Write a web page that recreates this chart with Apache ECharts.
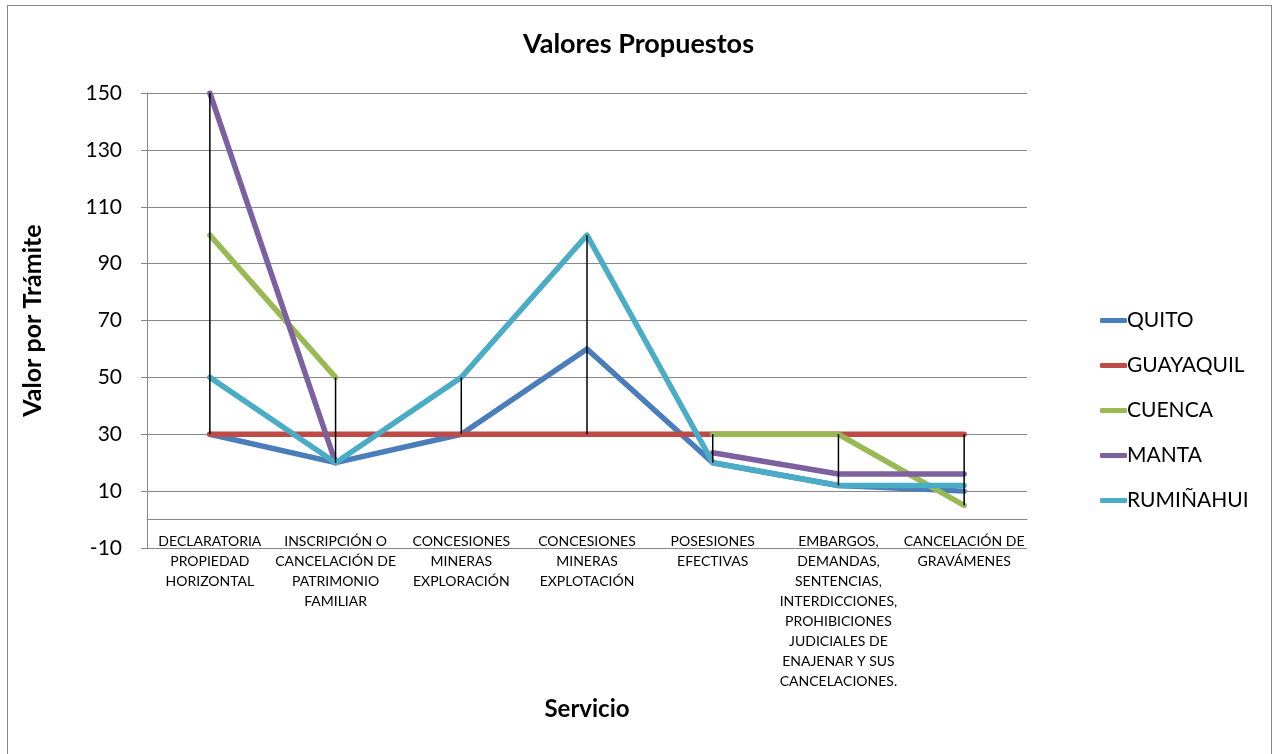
<!DOCTYPE html>
<html>
<head>
<meta charset="utf-8">
<script src="https://cdn.jsdelivr.net/npm/echarts@6/dist/echarts.min.js"></script>
<style>
  html, body { margin: 0; padding: 0; background: #fff; }
  #frame { position: absolute; left: 7px; top: 5px; width: 1265px; height: 770px; border: 1px solid #878787; box-sizing: border-box; }
  #chart { position: absolute; left: 0; top: 0; width: 1277px; height: 754px; }
</style>
</head>
<body>
<div id="frame"></div>
<div id="chart"></div>
<script>
const categories = [
  "DECLARATORIA\nPROPIEDAD\nHORIZONTAL",
  "INSCRIPCIÓN O\nCANCELACIÓN DE\nPATRIMONIO\nFAMILIAR",
  "CONCESIONES\nMINERAS\nEXPLORACIÓN",
  "CONCESIONES\nMINERAS\nEXPLOTACIÓN",
  "POSESIONES\nEFECTIVAS",
  "EMBARGOS,\nDEMANDAS,\nSENTENCIAS,\nINTERDICCIONES,\nPROHIBICIONES\nJUDICIALES DE\nENAJENAR Y SUS\nCANCELACIONES.",
  "CANCELACIÓN DE\nGRAVÁMENES"
];
const quito     = [30, 20, 30, 60, 20, 12, 10];
const guayaquil = [30, 30, 30, 30, 30, 30, 30];
const cuenca    = [100, 50, null, null, 30, 30, 5];
const manta     = [150, 20, null, null, 23.5, 16, 16];
const ruminahui = [50, 20, 50, 100, 20, 12, 12];

const seriesNames = ["QUITO", "GUAYAQUIL", "CUENCA", "MANTA", "RUMIÑAHUI"];
const seriesData = [quito, guayaquil, cuenca, manta, ruminahui];
const colors = ["#4A7EBB", "#BE4B48", "#98B954", "#7D60A0", "#4BACC6"];

const font = "Lato, 'Open Sans', 'Noto Sans', sans-serif";

const hiLo = categories.map((c, i) => {
  const vals = seriesData.map(s => s[i]).filter(v => v !== null && v !== undefined);
  return [i, Math.min(...vals), Math.max(...vals)];
});

const chart = echarts.init(document.getElementById('chart'), null, { renderer: 'canvas' });

const lineSeries = seriesNames.map((name, k) => ({
  name: name,
  type: 'line',
  data: seriesData[k],
  symbol: 'none',
  showSymbol: false,
  connectNulls: false,
  lineStyle: { color: colors[k], width: 5.5, cap: 'round', join: 'round' },
  itemStyle: { color: colors[k] },
  z: 3 + k,
  animation: false
}));

const option = {
  animation: false,
  textStyle: { fontFamily: font },
  title: {
    text: 'Valores Propuestos',
    left: 'center',
    top: 26,
    textStyle: { fontFamily: font, fontSize: 27, fontWeight: 'bold', color: '#000' }
  },
  grid: { left: 147, right: 250, top: 93, bottom: 206, containLabel: false, outerBoundsMode: 'none' },
  legend: {
    orient: 'vertical',
    left: 1095,
    top: 305,
    icon: 'roundRect',
    itemWidth: 27,
    itemHeight: 5,
    itemGap: 24,
    data: seriesNames,
    textStyle: { fontFamily: font, fontSize: 21, lineHeight: 21, color: '#000', padding: [0, 0, 0, -5] }
  },
  xAxis: {
    type: 'category',
    data: categories,
    boundaryGap: true,
    axisLine: { show: true, onZero: true, lineStyle: { color: '#878787', width: 1 } },
    axisTick: { show: false },
    axisLabel: {
      interval: 0,
      fontFamily: font,
      fontSize: 14,
      lineHeight: 20,
      color: '#000',
      margin: -17
    },
    splitLine: { show: false },
    name: 'Servicio',
    nameLocation: 'middle',
    nameGap: 149,
    nameTextStyle: { fontFamily: font, fontSize: 24, fontWeight: 'bold', color: '#000' }
  },
  yAxis: {
    type: 'value',
    min: -10,
    max: 150,
    interval: 20,
    axisLine: { show: true, lineStyle: { color: '#878787', width: 1 } },
    axisTick: { show: true, length: 6, lineStyle: { color: '#878787' } },
    axisLabel: { fontFamily: font, fontSize: 21, color: '#000', margin: 25 },
    splitLine: { show: true, lineStyle: { color: '#878787', width: 1 } },
    name: 'Valor por Trámite',
    nameLocation: 'middle',
    nameGap: 102,
    nameRotate: 90,
    nameTextStyle: { fontFamily: font, fontSize: 25, fontWeight: 'bold', color: '#000' }
  },
  series: lineSeries.concat([{
    name: 'hilo',
    type: 'custom',
    data: hiLo,
    z: 20,
    silent: true,
    renderItem: function (params, api) {
      const p1 = api.coord([api.value(0), api.value(1)]);
      const p2 = api.coord([api.value(0), api.value(2)]);
      return {
        type: 'line',
        shape: { x1: p1[0], y1: p1[1], x2: p2[0], y2: p2[1] },
        style: { stroke: '#000', lineWidth: 1.5 }
      };
    }
  }])
};

chart.setOption(option);
</script>
</body>
</html>
